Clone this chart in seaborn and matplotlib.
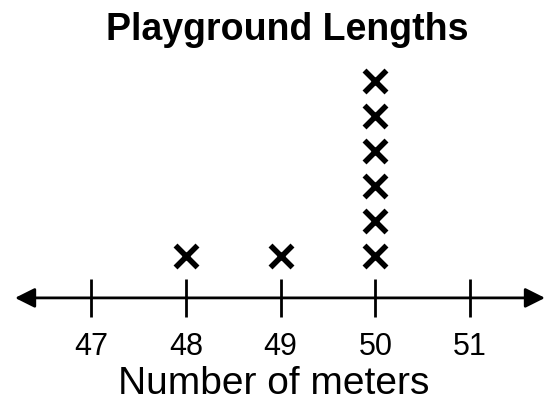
import pandas as pd
import numpy as np
import matplotlib.pyplot as plt
import seaborn as sns

# data: playground lengths (meters) and how many X's sit above each value
lengths = [47, 48, 49, 50, 51]
counts = [0, 1, 1, 6, 0]
tick_labels = ["47", "48", "49", "50", "51"]

rows = []
for v, c in zip(lengths, counts):
    for k in range(1, c + 1):
        rows.append({"length": v, "level": k + 0.2})
df = pd.DataFrame(rows)

sns.set_style("white")
plt.rcParams["font.family"] = ["Liberation Sans", "DejaVu Sans"]

fig = plt.figure(figsize=(5.48, 4.06), dpi=100)
ax = fig.add_axes([0, 0, 1, 1])

sns.scatterplot(
    data=df,
    x="length",
    y="level",
    marker="x",
    s=250,
    linewidth=4,
    color="black",
    ax=ax
)

ax.set_xlim(46.04, 51.82)
ax.set_ylim(-3.06, 8.54)

# number line with arrows on both ends
ax.annotate(
    "", xy=(46.04 + 15 / 94.75, 0), xytext=(51.82 - 3 / 94.75, 0),
    arrowprops=dict(arrowstyle="<|-|>", color="black", lw=2,
                    mutation_scale=30, shrinkA=0, shrinkB=0)
)

for s in ["top", "right", "left", "bottom"]:
    ax.spines[s].set_visible(False)
ax.spines["bottom"].set_position(("data", 0))

ax.set_xticks(lengths)
ax.set_xticklabels(tick_labels)
ax.set_yticks([])
ax.tick_params(axis="x", bottom=True, direction="inout", length=28, width=2,
               color="black", pad=10, labelsize=22, labelcolor="black")

ax.set_xlabel("Number of meters", fontsize=28, labelpad=3, color="black")
ax.set_ylabel("")

fig.text(0.524, 1 - 30 / 406, "Playground Lengths", ha="center",
         va="center", fontsize=27, fontweight="bold", color="black")

fig.savefig("out.png", dpi=100)
